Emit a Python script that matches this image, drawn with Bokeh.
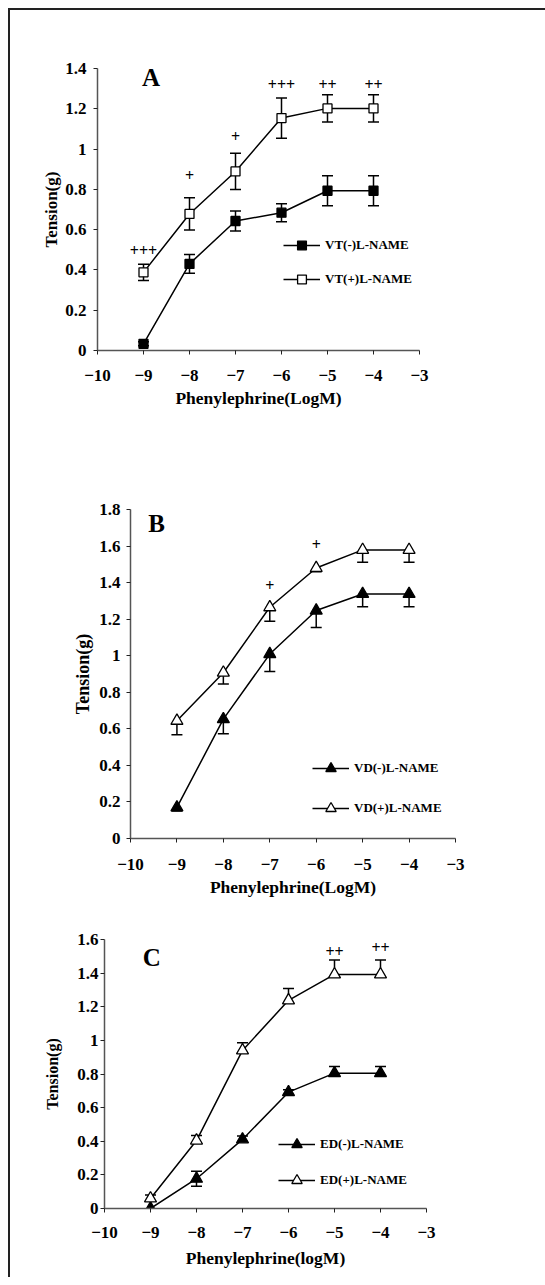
from bokeh.plotting import figure
from bokeh.models import (Range1d, FixedTicker, NumeralTickFormatter, Whisker,
                          ColumnDataSource, Legend, LegendItem, Label, TeeHead)
from bokeh.layouts import column
from bokeh.embed import file_html
from bokeh.resources import INLINE
from bokeh.core.properties import value

FONT = "Liberation Serif"

# ---------------- data ----------------
conc = [-9, -8, -7, -6, -5, -4]
x_ticks = [-10, -9, -8, -7, -6, -5, -4, -3]

# Panel A : VT
a_minus = [0.033, 0.43, 0.643, 0.684, 0.793, 0.793]
a_minus_err = [0.01, 0.046, 0.05, 0.045, 0.075, 0.075]
a_plus = [0.388, 0.678, 0.889, 1.154, 1.202, 1.202]
a_plus_err = [0.04, 0.08, 0.09, 0.10, 0.068, 0.068]
a_sig = ["+++", "+", "+", "+++", "++", "++"]
a_sig_y = [0.496, 0.871, 1.061, 1.322, 1.322, 1.322]
a_yticks = [0, 0.2, 0.4, 0.6, 0.8, 1.0, 1.2, 1.4]

# Panel B : VD
b_minus = [0.17, 0.653, 1.009, 1.247, 1.338, 1.338]
b_minus_err = [0.02, 0.08, 0.095, 0.092, 0.07, 0.07]
b_plus = [0.644, 0.907, 1.265, 1.48, 1.579, 1.579]
b_plus_err = [0.077, 0.062, 0.077, 0.02, 0.068, 0.068]
b_sig_x = [-7, -6]
b_sig = ["+", "+"]
b_sig_y = [1.384, 1.608]
b_yticks = [0, 0.2, 0.4, 0.6, 0.8, 1.0, 1.2, 1.4, 1.6, 1.8]

# Panel C : ED
c_minus = [0.0, 0.177, 0.411, 0.692, 0.805, 0.805]
c_minus_err_up = [0.0, 0.045, 0.02, 0.015, 0.04, 0.04]
c_minus_err_down = [0.0, 0.045, 0.0, 0.0, 0.0, 0.0]
c_plus = [0.06, 0.404, 0.94, 1.238, 1.392, 1.392]
c_plus_err_up = [0.02, 0.03, 0.046, 0.07, 0.086, 0.086]
c_sig_x = [-5, -4]
c_sig = ["++", "++"]
c_sig_y = [1.526, 1.555]
c_yticks = [0, 0.2, 0.4, 0.6, 0.8, 1.0, 1.2, 1.4, 1.6]


def make_fig(fw, fh, bl, br, bt, bb, ymax, yticks, xlabel, ylabel,
             ylab_size, ytick_standoff, ylab_standoff, xtick_standoff, xlab_standoff):
    p = figure(frame_width=fw, frame_height=fh, min_border_left=bl, min_border_right=br,
               min_border_top=bt, min_border_bottom=bb,
               x_range=Range1d(-10, -3), y_range=Range1d(0, ymax),
               output_backend="svg", toolbar_location=None,
               background_fill_color="white", border_fill_color="white")
    p.outline_line_color = None
    p.grid.visible = False
    p.xaxis.ticker = FixedTicker(ticks=x_ticks)
    p.yaxis.ticker = FixedTicker(ticks=yticks)
    p.yaxis.formatter = NumeralTickFormatter(format="0.[0]")
    for ax in (p.xaxis[0], p.yaxis[0]):
        ax.axis_line_color = "#555555"
        ax.axis_line_width = 1.5
        ax.major_tick_line_color = "#222222"
        ax.major_tick_line_width = 1
        ax.major_tick_out = 4
        ax.major_tick_in = 0
        ax.minor_tick_line_color = None
        ax.major_label_text_font = FONT
        ax.major_label_text_font_style = "bold"
        ax.major_label_text_font_size = "17px"
        ax.major_label_text_color = "black"
        ax.axis_label_text_font = FONT
        ax.axis_label_text_font_style = "bold"
        ax.axis_label_text_color = "black"
    p.xaxis.axis_label = xlabel
    p.yaxis.axis_label = ylabel
    p.xaxis.axis_label_text_font_size = "17.5px"
    p.yaxis.axis_label_text_font_size = ylab_size
    p.yaxis.major_label_standoff = ytick_standoff
    p.yaxis.axis_label_standoff = ylab_standoff
    p.xaxis.major_label_standoff = xtick_standoff
    p.xaxis.axis_label_standoff = xlab_standoff
    return p


def whisker(p, xs, ys, errs, direction):
    pts = [(x, y, e) for x, y, e in zip(xs, ys, errs) if e > 0]
    if not pts:
        return
    bx = [t[0] for t in pts]
    if direction == "up":
        up = [t[1] + t[2] for t in pts]
        lo = [t[1] for t in pts]
    else:
        up = [t[1] for t in pts]
        lo = [t[1] - t[2] for t in pts]
    src = ColumnDataSource(dict(base=bx, upper=up, lower=lo))
    head = TeeHead(size=11, line_width=1.5, line_color="black")
    w = Whisker(base="base", upper="upper", lower="lower", source=src, dimension="height",
                line_color="black", line_width=1.5, level="underlay",
                upper_head=head if direction == "up" else None,
                lower_head=head if direction == "down" else None)
    p.add_layout(w)


def series(p, ys, marker, filled, size):
    ln = p.line(conc, ys, line_color="black", line_width=1.5)
    sc = p.scatter(conc, ys, marker=marker, size=size, line_color="black", line_width=1.3,
                   fill_color="black" if filled else "white")
    return [ln, sc]


def legend(p, labels, rends, loc, gh, spacing):
    lg = Legend(items=[LegendItem(label=l, renderers=r) for l, r in zip(labels, rends)],
                location=loc, orientation="vertical", glyph_width=37, glyph_height=gh,
                label_height=gh, spacing=spacing, padding=0, margin=0,
                border_line_color=None, background_fill_alpha=0,
                label_text_font=FONT, label_text_font_style="bold",
                label_text_font_size="13px", label_text_color="black", label_standoff=5)
    p.add_layout(lg)


def sig(p, xs, ys, texts, size="16px"):
    p.text(x=xs, y=ys, text=texts, text_align="center", text_baseline="middle",
           text_font=value(FONT), text_font_size=size, text_font_style="bold",
           text_color="black")


def panel_label(p, x, y, t):
    p.add_layout(Label(x=x, y=y, text=t, text_font=FONT, text_font_style="bold",
                       text_font_size="25px", text_baseline="middle", text_align="left",
                       text_color="black"))


# ---------------- Panel A ----------------
pa = make_fig(322, 282, 87, 126, 58, 90, 1.4, a_yticks, "Phenylephrine(LogM)", "Tension(g)",
              "17px", 7, 1, 15, 4)
for ys, e in ((a_minus, a_minus_err), (a_plus, a_plus_err)):
    whisker(pa, conc, ys, e, "up")
    whisker(pa, conc, ys, e, "down")
ra1 = series(pa, a_minus, "square", True, 9)
ra2 = series(pa, a_plus, "square", False, 9)
sig(pa, conc, a_sig_y, a_sig)
legend(pa, ["VT(-)L-NAME", "VT(+)L-NAME"], [ra1, ra2], (186, 60), 22, 12)
panel_label(pa, -9.03, 1.357, "A")

# ---------------- Panel B ----------------
pb = make_fig(325, 329, 120, 90, 69, 72, 1.8, b_yticks, "Phenylephrine(LogM)", "Tension(g)",
              "18px", 6, 3, 16, 4)
whisker(pb, conc, b_minus, b_minus_err, "down")
whisker(pb, conc, b_plus, b_plus_err, "down")
rb1 = series(pb, b_minus, "triangle", True, 12)
rb2 = series(pb, b_plus, "triangle", False, 12)
sig(pb, b_sig_x, b_sig_y, b_sig)
legend(pb, ["VD(-)L-NAME", "VD(+)L-NAME"], [rb1, rb2], (182, 17), 26, 14)
panel_label(pb, -9.62, 1.723, "B")

# ---------------- Panel C ----------------
pc = make_fig(322, 269, 94, 119, 29, 69, 1.6, c_yticks, "Phenylephrine(logM)", "Tension(g)",
              "16px", 2, 13, 14, 7)
whisker(pc, conc, c_minus, c_minus_err_up, "up")
whisker(pc, conc, c_minus, c_minus_err_down, "down")
whisker(pc, conc, c_plus, c_plus_err_up, "up")
rc1 = series(pc, c_minus, "triangle", True, 12)
rc2 = series(pc, c_plus, "triangle", False, 12)
sig(pc, c_sig_x, c_sig_y, c_sig)
legend(pc, ["ED(-)L-NAME", "ED(+)L-NAME"], [rc1, rc2], (174, 15), 26, 10)
panel_label(pc, -9.17, 1.495, "C")

# each panel in its own wrapper so that plot frames are not aligned to each other
EDGE = "2px solid #222222"
ca = column(pa, margin=(8, 0, 0, 8), styles={"border-top": EDGE, "border-left": EDGE})
cb = column(pb, margin=(0, 0, 0, 8), styles={"border-left": EDGE})
cc = column(pc, margin=(0, 0, 0, 8), styles={"border-left": EDGE})

open("out.html", "w").write(file_html([ca, cb, cc], INLINE))
